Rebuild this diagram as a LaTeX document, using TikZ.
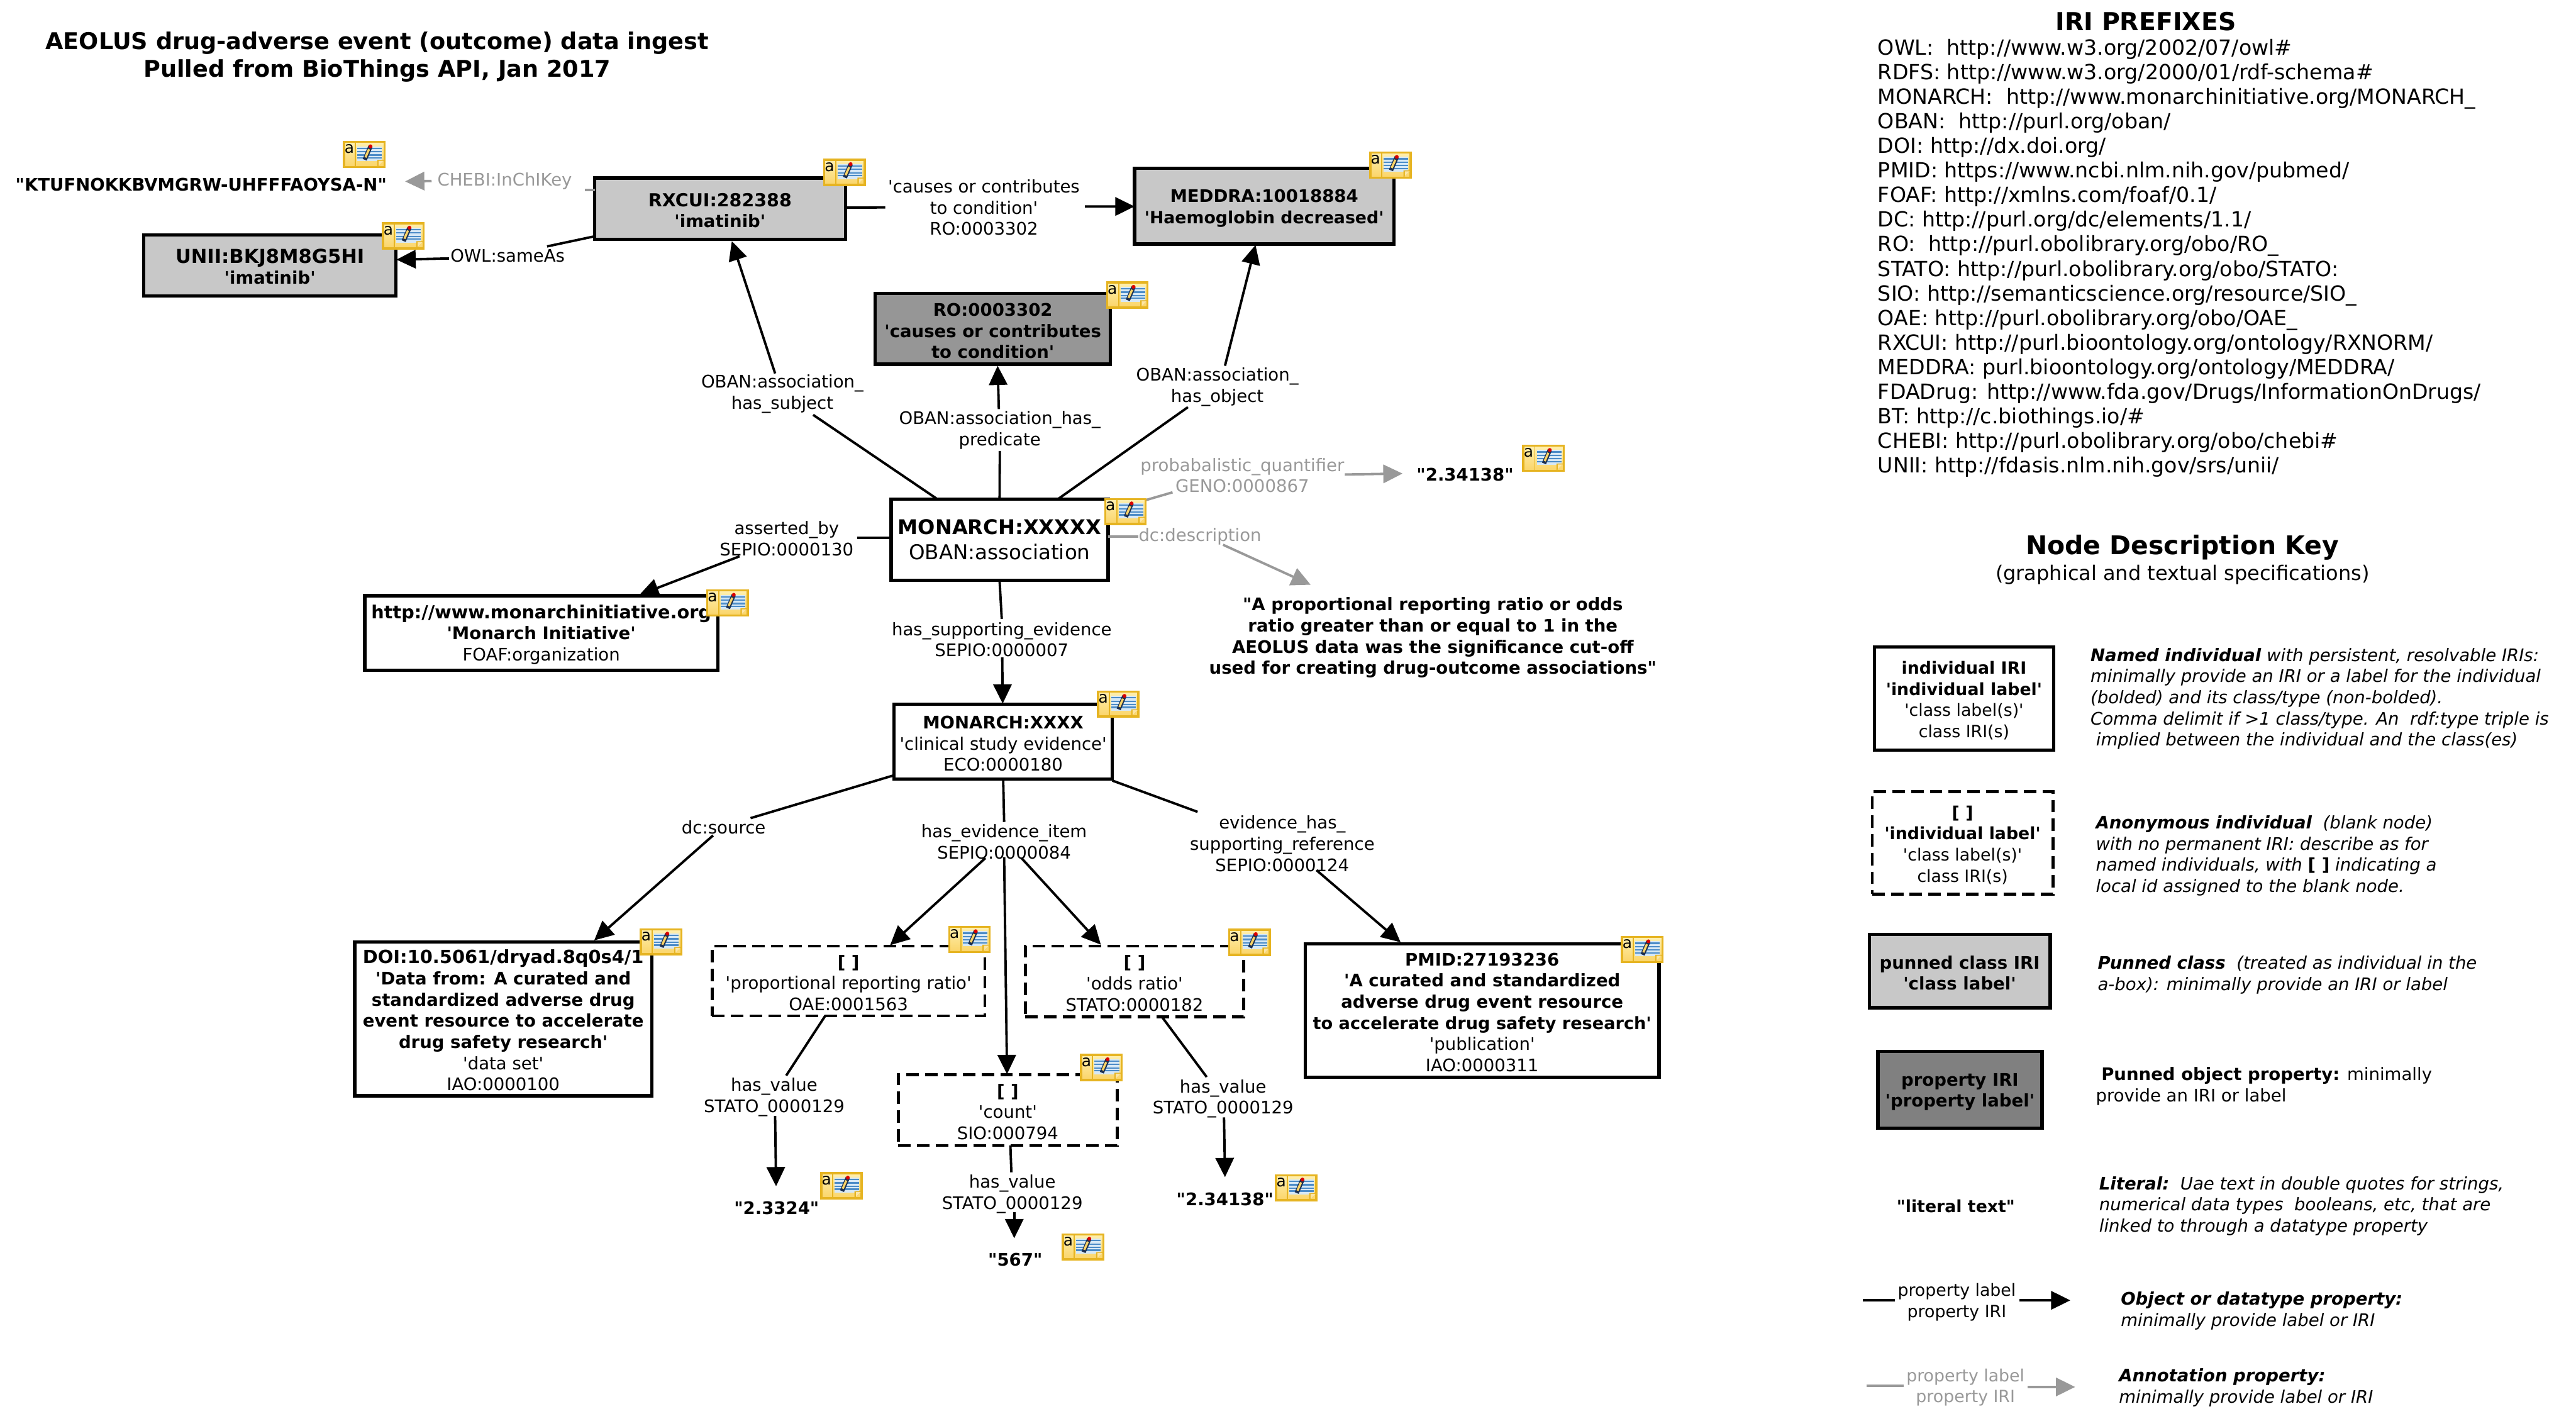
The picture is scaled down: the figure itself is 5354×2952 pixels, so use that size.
\documentclass[tikz,border=0pt]{standalone}
\usepackage{fontspec}
\setmainfont{DejaVu Sans}[Ligatures=TeXOff]
\usetikzlibrary{arrows.meta,calc}
\definecolor{annot}{HTML}{999999}
\definecolor{punned}{HTML}{C8C8C8}
\definecolor{punprop}{HTML}{969696}
\definecolor{keyprop}{HTML}{808080}
\definecolor{noteline}{HTML}{E6B422}
\definecolor{notetop}{HTML}{FFF0B0}
\definecolor{notebot}{HTML}{FAD468}
\definecolor{noteblue}{HTML}{4C8CC8}
\definecolor{notepale}{HTML}{D6E8F6}
\definecolor{notepen}{HTML}{1D2F4F}
\newcommand\fa{\fontsize{7.2}{8.8}\selectfont}
\newcommand\fmon{\fontsize{8.5}{10.6}\selectfont}
\newcommand\ftitle{\fontsize{9.58}{11.6}\selectfont}
\newcommand\fpre{\fontsize{8.68}{10.22}\selectfont}
\newcommand\fkeyt{\fontsize{10.7}{12}\selectfont}
\newcommand\fksub{\fontsize{8.36}{10}\selectfont}
\newcommand\fkey{\fontsize{7.2}{8.8}\selectfont}
\newcommand\fkbox{\fontsize{7}{8.8}\selectfont}
\newcommand\st{\rule{0pt}{7pt}}
\tikzset{
  wh/.style 2 args={minimum width=#1*0.2pt,minimum height=#2*0.2pt},
  boxbase/.style={draw=black,rectangle,inner sep=0pt,outer sep=0pt,align=center,font=\fa,line width=1.4pt,text=black},
  indiv/.style={boxbase,fill=white},
  anon/.style={boxbase,fill=white,line width=1.2pt,dash pattern=on 5.2pt off 2.6pt},
  pclass/.style={boxbase,fill=punned},
  pprop/.style={boxbase,fill=punprop},
  kprop/.style={boxbase,fill=keyprop},
  lab/.style={inner sep=0pt,outer sep=0pt,align=center,font=\fa,text=black},
  glab/.style={lab,text=annot},
  lit/.style={lab,font=\fa\bfseries},
  desc/.style={inner sep=0pt,outer sep=0pt,align=left,anchor=west,font=\fkey\itshape},
  edge/.style={draw=black,line width=1pt},
  edgea/.style={edge,-{Triangle[length=8pt,width=7.6pt]}},
  gedge/.style={draw=annot,line width=1pt},
  gedgea/.style={gedge,-{Triangle[length=8pt,width=7.6pt]}},
  noteicon/.pic={
    \path[draw=noteline,line width=0.9pt,top color=notetop,bottom color=notebot] (2,2) rectangle (86,54);
    \draw[noteline,line width=0.5pt] (26,3) -- (26,53);
    \fill[notepale] (30,11) rectangle (81,42);
    \foreach \yy in {15,22,29,35}{\fill[noteblue] (30,\yy-1.5) rectangle (81,\yy+1.5);}
    \fill[noteline] (71,54) -- (86,39) -- (71,39) -- cycle;
    \fill[notebot!60!white] (74,51) -- (84,41) -- (74,41) -- cycle;
    \draw[notepen,line width=1.8pt] (45,39) -- (57,11);
    \draw[notebot,line width=0.9pt] (46.5,34) -- (54,17);
    \fill[red!85!black] (57,11) circle (4);
    \node[inner sep=0pt,font=\fontsize{6.5}{7}\selectfont] (-a) at (13,17) {a};
  }
}
\begin{document}
\begin{tikzpicture}[x=0.2pt,y=-0.2pt]
\fill[white] (0,0) rectangle (5354,2952);
\useasboundingbox (0,0) rectangle (5354,2952);

% title
\node[lab,font=\ftitle\bfseries] (title) at (784,118) {AEOLUS drug-adverse event (outcome) data ingest\\Pulled from BioThings API, Jan 2017};

% boxes
\node[pclass,wh={521}{127}] (rx) at (1496.5,433.5) {\st{\fontsize{7.45}{8.8}\selectfont\bfseries RXCUI:282388}\\\bfseries 'imatinib'};
\node[pclass,wh={524}{127}] (unii) at (561,551.5) {\st{\fontsize{8}{8.8}\selectfont\bfseries UNII:BKJ8M8G5HI}\\\bfseries 'imatinib'};
\node[pclass,wh={539}{157}] (meddra) at (2627.5,428.5) {\st\bfseries MEDDRA:10018884\\\fontsize{7}{8.8}\selectfont\bfseries 'Haemoglobin decreased'};
\node[pprop,wh={489}{147}] (ro) at (2063.5,683.5) {\st\bfseries RO:0003302\\\bfseries 'causes or contributes\\\bfseries to condition'};
\node[indiv,wh={451}{169},font=\fmon] (mon) at (2077.5,1121.5) {{\fontsize{8.4}{10.6}\selectfont\bfseries MONARCH:XXXXX}\\OBAN:association};
\node[indiv,wh={734}{155}] (mi) at (1125,1315.5) {\st{\fontsize{7.5}{8.8}\selectfont\bfseries http://www.monarchinitiative.org}\\\bfseries 'Monarch Initiative'\\FOAF:organization};
\node[indiv,wh={454}{156}] (ev) at (2085,1541) {\st\bfseries MONARCH:XXXX\\'clinical study evidence'\\ECO:0000180};
\node[indiv,wh={618}{320}] (doi) at (1046,2117) {\st{\fontsize{7.55}{8.8}\selectfont\bfseries DOI:10.5061/dryad.8q0s4/1}\\\bfseries 'Data from: A curated and\\\bfseries standardized adverse drug\\\bfseries event resource to accelerate\\\bfseries drug safety research'\\'data set'\\IAO:0000100};
\node[anon,wh={567}{145}] (prr) at (1763.5,2038.5) {\st\bfseries [ ]\\'proportional reporting ratio'\\OAE:0001563};
\node[anon,wh={454}{147}] (odds) at (2358,2039.5) {\st\bfseries [ ]\\'odds ratio'\\STATO:0000182};
\node[anon,wh={455}{147}] (count) at (2094.5,2306.5) {\st\bfseries [ ]\\'count'\\SIO:000794};
\node[indiv,wh={735}{277}] (pmid) at (3080.5,2099.5) {\st\bfseries PMID:27193236\\\bfseries 'A curated and standardized\\\bfseries adverse drug event resource\\\fontsize{7.1}{8.8}\selectfont\bfseries to accelerate drug safety research'\\'publication'\\IAO:0000311};

% literals
\node[lit] (kt) at (418,383) {"KTUFNOKKBVMGRW-UHFFFAOYSA-N"};
\node[lit] (v1) at (3045,986) {"2.34138"};
\node[lit] (dtext) at (2978,1325) {"A proportional reporting ratio or odds\\ratio greater than or equal to 1 in the\\AEOLUS data was the significance cut-off\\used for creating drug-outcome associations"};
\node[lit] (v2) at (1614,2510) {"2.3324"};
\node[lit] (v3) at (2110,2618) {"567"};
\node[lit] (v4) at (2546,2492) {"2.34138"};

% connector labels
\node[glab] (lchebi) at (1049,376) {CHEBI:InChIKey};
\node[lab] (lsame) at (1055,531) {OWL:sameAs};
\node[lab] (lsubj) at (1626,819) {OBAN:association\_\\has\_subject};
\node[lab] (lcause) at (2045,431) {'causes or contributes\\to condition'\\RO:0003302};
\node[lab] (lpred) at (2078,894) {OBAN:association\_has\_\\predicate};
\node[lab] (lobj) at (2530,804) {OBAN:association\_\\has\_object};
\node[glab] (lprob) at (2582,988) {probabalistic\_quantifier\\GENO:0000867};
\node[glab] (ldc) at (2494,1115) {dc:description};
\node[lab] (lass) at (1635,1119) {asserted\_by\\SEPIO:0000130};
\node[lab] (lsup) at (2082,1329) {has\_supporting\_evidence\\SEPIO:0000007};
\node[lab] (lsrc) at (1504,1719) {dc:source};
\node[lab] (lite) at (2087,1749) {has\_evidence\_item\\SEPIO:0000084};
\node[lab] (lref) at (2665,1753) {evidence\_has\_\\supporting\_reference\\SEPIO:0000124};
\node[lab] (lv1) at (1609,2280) {has\_value\\STATO\_0000129};
\node[lab] (lv2) at (2104,2481) {has\_value\\STATO\_0000129};
\node[lab] (lv3) at (2542,2283) {has\_value\\STATO\_0000129};

% free ends of connectors
\coordinate (c1a) at (1215,395); \coordinate (c1b) at (897,376); \coordinate (c1c) at (842,377);
\coordinate (c2a) at (1137,512); \coordinate (c2b) at (933,537);
\coordinate (c3a) at (1690,862); \coordinate (c3b) at (1611,776);
\coordinate (c4a) at (1840,431); \coordinate (c4b) at (2255,429);
\coordinate (c5a) at (2078,937); \coordinate (c5b) at (2076,850);
\coordinate (c6a) at (2469,846); \coordinate (c6b) at (2546,760);
\coordinate (c7a) at (2437,1023); \coordinate (c7b) at (2795,986); \coordinate (c7c) at (2915,984);
\coordinate (c8a) at (2366,1115); \coordinate (c8b) at (2542,1132); \coordinate (c8c) at (2724,1215);
\coordinate (c9a) at (1781,1118); \coordinate (c9b) at (1537,1156);
\coordinate (c10a) at (2082,1286); \coordinate (c10b) at (2083,1366);
\coordinate (c11a) at (1560,1700); \coordinate (c11b) at (1482,1736);
\coordinate (c12a) at (2087,1708); \coordinate (c12b) at (2048,1783); \coordinate (c12c) at (2123,1783); \coordinate (c12d) at (2087,1781);
\coordinate (c13a) at (1634,2235); \coordinate (c13b) at (1611,2319); \coordinate (c13c) at (1613,2465);
\coordinate (c14a) at (2102,2436); \coordinate (c14b) at (2108,2519); \coordinate (c14c) at (2108,2573);
\coordinate (c15a) at (2508,2238); \coordinate (c15b) at (2544,2322); \coordinate (c15c) at (2546,2446);
\coordinate (c16a) at (2489,1687); \coordinate (c16b) at (2736,1808);

% connectors
\draw[gedge] ($(rx.north west)+(0,25)$) -- (c1a);
\draw[gedgea] (c1b) -- (c1c);
\draw[edge] ($(rx.south west)+(0,-6)$) -- (c2a);
\draw[edgea] (c2b) -- ($(unii.east)+(1,-12)$);
\draw[edge] ($(mon.north west)+(96,0)$) -- (c3a);
\draw[edgea] (c3b) -- ($(rx.south west)+(285,4)$);
\draw[edge] ($(rx.east)+(0,-2)$) -- (c4a);
\draw[edgea] (c4b) -- ($(meddra.west)+(0,0.5)$);
\draw[edge] (mon.north) -- (c5a);
\draw[edgea] (c5b) -- ($(ro.south)+(10,3)$);
\draw[edge] ($(mon.north west)+(347,0)$) -- (c6a);
\draw[edgea] (c6b) -- ($(meddra.south)+(-18,2)$);
\draw[gedge] ($(mon.north east)+(0,25)$) -- (c7a);
\draw[gedgea] (c7b) -- (c7c);
\draw[gedge] ($(mon.east)+(0,-6.5)$) -- (c8a);
\draw[gedgea] (c8b) -- (c8c);
\draw[edge] ($(mon.west)+(0,-3.5)$) -- (c9a);
\draw[edgea] (c9b) -- ($(mi.north west)+(571,-2)$);
\draw[edge] (mon.south) -- (c10a);
\draw[edgea] (c10b) -- ($(ev.north)+(-1,-1)$);
\draw[edge] ($(ev.south west)+(0,-8)$) -- (c11a);
\draw[edgea] (c11b) -- ($(doi.north west)+(498,-3)$);
\draw[edge] (ev.south) -- (c12a);
\draw[edgea] (c12b) -- ($(prr.north west)+(370,-2)$);
\draw[edgea] (c12c) -- ($(odds.north west)+(157,-3)$);
\draw[edgea] (c12d) -- ($(count.north)+(-1.5,-1)$);
\draw[edge] ($(prr.south west)+(235,0)$) -- (c13a);
\draw[edgea] (c13b) -- (c13c);
\draw[edge] ($(count.south)+(5.5,0)$) -- (c14a);
\draw[edgea] (c14b) -- (c14c);
\draw[edge] ($(odds.south west)+(284,0)$) -- (c15a);
\draw[edgea] (c15b) -- (c15c);
\draw[edge] ($(ev.south east)+(0,3)$) -- (c16a);
\draw[edgea] (c16b) -- ($(pmid.north west)+(198,-3)$);

% note icons
\pic (n1) at (713,293) {noteicon};
\pic (n2) at (1711,330) {noteicon};
\pic (n3) at (794,462) {noteicon};
\pic (n4) at (2846,315) {noteicon};
\pic (n5) at (2299,585) {noteicon};
\pic (n6) at (2295,1035) {noteicon};
\pic (n7) at (3164,924) {noteicon};
\pic (n8) at (1468,1225) {noteicon};
\pic (n9) at (2280,1435) {noteicon};
\pic (n10) at (1330,1929) {noteicon};
\pic (n11) at (1971,1924) {noteicon};
\pic (n12) at (2553,1930) {noteicon};
\pic (n13) at (2245,2190) {noteicon};
\pic (n14) at (3369,1945) {noteicon};
\pic (n15) at (1705,2436) {noteicon};
\pic (n16) at (2207,2563) {noteicon};
\pic (n17) at (2650,2440) {noteicon};

% prefixes
\node[lab,font=\fontsize{10.3}{12}\selectfont\bfseries] (ptitle) at (4460,44) {IRI PREFIXES};
\node[inner sep=0pt,outer sep=0pt,anchor=north west,align=left,font=\fpre] (plist) at (3903,81) {OWL:\ \ http://www.w3.org/2002/07/owl\#\\
RDFS: http://www.w3.org/2000/01/rdf-schema\#\\
MONARCH:\ \ http://www.monarchinitiative.org/MONARCH\_\\
OBAN:\ \ http://purl.org/oban/\\
DOI: http://dx.doi.org/\\
PMID: https://www.ncbi.nlm.nih.gov/pubmed/\\
FOAF: http://xmlns.com/foaf/0.1/\\
DC: http://purl.org/dc/elements/1.1/\\
RO:\ \ http://purl.obolibrary.org/obo/RO\_\\
STATO: http://purl.obolibrary.org/obo/STATO:\\
SIO: http://semanticscience.org/resource/SIO\_\\
OAE: http://purl.obolibrary.org/obo/OAE\_\\
RXCUI: http://purl.bioontology.org/ontology/RXNORM/\\
MEDDRA: purl.bioontology.org/ontology/MEDDRA/\\
FDADrug: http://www.fda.gov/Drugs/InformationOnDrugs/\\
BT: http://c.biothings.io/\#\\
CHEBI: http://purl.obolibrary.org/obo/chebi\#\\
UNII: http://fdasis.nlm.nih.gov/srs/unii/};

% key
\node[lab,font=\fkeyt\bfseries] (ktitle) at (4536,1137) {Node Description Key};
\node[lab,font=\fksub] (ksub) at (4536,1194) {(graphical and textual specifications)};
\node[indiv,wh={372}{215},font=\fkbox] (k1) at (4082,1451.5) {\st\bfseries individual IRI\\\bfseries 'individual label'\\'class label(s)'\\class IRI(s)};
\node[anon,wh={376}{213},font=\fkbox] (k2) at (4079,1751.5) {\st\bfseries [ ]\\\bfseries 'individual label'\\'class label(s)'\\class IRI(s)};
\node[pclass,wh={376}{152},font=\fkey] (k3) at (4073,2018) {\st\bfseries punned class IRI\\\bfseries 'class label'};
\node[kprop,wh={341}{159},font=\fkey] (k4) at (4073.5,2264.5) {\st\bfseries property IRI\\\bfseries 'property label'};
\node[lit,font=\fkbox\bfseries] (k5) at (4065,2507) {"literal text"};
\node[lab,font=\fkbox] (k6) at (4067,2706) {property label\\property IRI};
\node[glab,font=\fkbox] (k7) at (4085,2883) {property label\\property IRI};
\coordinate (k6a) at (3872,2702); \coordinate (k6b) at (3938,2702); \coordinate (k6c) at (4197,2702); \coordinate (k6d) at (4303,2702);
\coordinate (k7a) at (3879,2879); \coordinate (k7b) at (3957,2879); \coordinate (k7c) at (4214,2882); \coordinate (k7d) at (4313,2882);
\draw[edge] (k6a) -- (k6b);
\draw[edgea] (k6c) -- (k6d);
\draw[gedge] (k7a) -- (k7b);
\draw[gedgea] (k7c) -- (k7d);

\node[desc] (d1) at (4345,1452) {{\bfseries Named individual} with persistent, resolvable IRIs:\\minimally provide an IRI or a label for the individual\\(bolded) and its class/type (non-bolded).\\Comma delimit if >1 class/type. An\ \ rdf:type triple is\\\ implied between the individual and the class(es)};
\node[desc] (d2) at (4356,1778) {{\bfseries Anonymous individual}\ \ (blank node)\\with no permanent IRI: describe as for\\named individuals, with {\bfseries\upshape [ ]} indicating a\\local id assigned to the blank node.};
\node[desc] (d3) at (4360,2026) {{\bfseries Punned class}\ \ (treated as individual in the\\a-box): minimally provide an IRI or label};
\node[desc,font=\fkey] (d4) at (4356,2257) {\ {\bfseries Punned object property:} minimally\\provide an IRI or label};
\node[desc] (d5) at (4363,2506) {{\bfseries Literal:}\ \ Uae text in double quotes for strings,\\numerical data types\ \ booleans, etc, that are\\linked to through a datatype property};
\node[desc] (d6) at (4408,2724) {{\bfseries Object or datatype property:}\\minimally provide label or IRI};
\node[desc] (d7) at (4404,2883) {{\bfseries Annotation property:}\\minimally provide label or IRI};
\end{tikzpicture}
\end{document}
